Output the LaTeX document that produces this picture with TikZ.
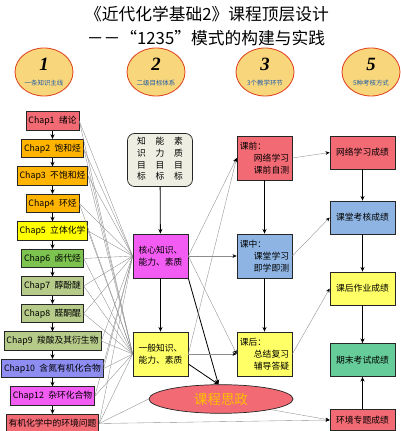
\documentclass[tikz,border=0pt]{standalone}
\usepackage{fontspec}
\setmainfont{Noto Sans CJK SC}
\newfontfamily\numfont{Liberation Serif}
\usetikzlibrary{arrows.meta,shapes.geometric}

\definecolor{ovalfill}{HTML}{F8D77C}
\definecolor{ovaldraw}{HTML}{E0401C}
\definecolor{ovaltext}{HTML}{1E5AAA}
\definecolor{boxred}{HTML}{F26A74}
\definecolor{boxorange}{HTML}{FFB400}
\definecolor{boxyellow}{HTML}{FFFF00}
\definecolor{boxgreen}{HTML}{7CC350}
\definecolor{boxolive}{HTML}{B6CB8A}
\definecolor{boxblue}{HTML}{8E8EF2}
\definecolor{boxmagenta}{HTML}{F25CF2}
\definecolor{paleyellow}{HTML}{FFFF66}
\definecolor{paleblue}{HTML}{8DB4E2}
\definecolor{palegreen}{HTML}{66CC99}
\definecolor{goalfill}{HTML}{EEEEE2}
\definecolor{sztext}{HTML}{FFC000}

\begin{document}
\begin{tikzpicture}[x=0.03cm,y=-0.03cm,
    box/.style={draw=black!85,line width=0.6pt,inner sep=2pt,font=\fontsize{7.5}{10}\selectfont},
    chapbox/.style={box,minimum height=0.55cm,inner xsep=2pt},
    midbox/.style={box,minimum width=1.65cm,minimum height=1.32cm},
    scorebox/.style={box,minimum width=1.95cm,minimum height=0.99cm},
    numoval/.style={ellipse,draw=ovaldraw,line width=0.7pt,fill=ovalfill,minimum width=1.74cm,minimum height=1.44cm,inner sep=0pt,align=center},
    thin/.style={draw=black!45,line width=0.3pt},
    thinarrow/.style={thin,-{Stealth[length=3.5pt,width=3pt,color=black]}},
    thick/.style={draw=black,line width=0.7pt,-{Stealth[length=4pt,width=3.5pt]}}]
\useasboundingbox (0,0) rectangle (400,431);

% title
\node[font=\fontsize{14.3}{16}\selectfont] (title1) at (207,14) {《近代化学基础2》课程顶层设计};
\node[font=\fontsize{14.3}{16}\selectfont] (title2) at (206,38) {－－“1235”模式的构建与实践};

% numbered ovals
\foreach \n/\x/\t in {1/44/一条知识主线,2/156/二级目标体系,3/265/3个教学环节,5/371/5种考核方式}
  \node[numoval] (n\n) at (\x,72)
    {{\numfont\bfseries\itshape\fontsize{16}{16}\selectfont \n}\\[1pt]
     {\color{ovaltext}\fontsize{5.5}{6}\selectfont \t}};

% chapters
\foreach \i/\t/\c in {1/{Chap1\enspace 绪论}/boxred,2/{Chap2\enspace 饱和烃}/boxorange,3/{Chap3\enspace 不饱和烃}/boxorange,
    4/{Chap4\enspace 环烃}/boxorange,5/{Chap5\enspace 立体化学}/boxyellow,6/{Chap6\enspace 卤代烃}/boxgreen,
    7/{Chap7\enspace 醇酚醚}/boxolive,8/{Chap8\enspace 醛酮醌}/boxolive,9/{Chap9\enspace 羧酸及其衍生物}/boxolive,
    10/{Chap10\enspace 含氮有机化合物}/boxblue,11/{Chap12\enspace 杂环化合物}/boxmagenta,12/{有机化学中的环境问题}/boxred}
  \node[chapbox,fill=\c] (c\i) at (52.5,{121+27.5*(\i-1)}) {\t};

% goals
\node[box,rounded corners=6pt,fill=goalfill,minimum width=1.95cm,minimum height=1.59cm] (goal) at (160,160)
  {\begin{tabular}{@{}c@{\hspace{1.1em}}c@{\hspace{1.1em}}c@{}}知&能&素\\识&力&质\\目&目&目\\标&标&标\end{tabular}};
\node[midbox,fill=boxmagenta,align=left] (core) at (160.5,256) {核心知识、\\能力、素质};
\node[midbox,fill=paleyellow,align=left] (general) at (160.5,354) {一般知识、\\能力、素质};
\node[ellipse,draw=black!85,line width=0.6pt,fill=boxred,minimum width=4.32cm,minimum height=0.78cm,
  text=sztext,font=\fontsize{11.5}{12}\selectfont] (szh) at (221,399) {课程思政};

% teaching stages
\node[midbox,fill=boxred,align=left] (before) at (264.5,158) {课前：\\\hspace*{1.6em}网络学习\\\hspace*{1.6em}课前自测};
\node[midbox,fill=paleblue,align=left] (during) at (264.5,256) {课中：\\\hspace*{1.6em}课堂学习\\\hspace*{1.6em}即学即测};
\node[midbox,fill=paleyellow,align=left] (after) at (264.5,354) {课后：\\\hspace*{1.6em}总结复习\\\hspace*{1.6em}辅导答疑};

% scores
\node[scorebox,fill=boxred] (web) at (362.5,152.5) {网络学习成绩};
\node[scorebox,fill=paleblue] (class) at (362.5,217.5) {课堂考核成绩};
\node[scorebox,fill=paleyellow] (homework) at (362.5,288.5) {课后作业成绩};
\node[scorebox,fill=palegreen] (final) at (362.5,360) {期末考试成绩};
\node[scorebox,fill=boxred,minimum height=0.63cm] (env) at (362.5,420) {环境专题成绩};

% connectors
\foreach \i [evaluate=\i as \j using int(\i+1)] in {1,...,11}
  \draw[thick] (c\i) -- (c\j);
\foreach \i in {1,...,12} {
  \draw[thin] (c\i.east) -- (core.west);
  \draw[thin] (c\i.east) -- (general.west);
}
\draw[thin] (c12.east) -- (szh.west);
\draw[thinarrow] (c12.east) -- (env.west);
\draw[thick] (goal) -- (core);
\draw[thick] (core) -- (general);
\draw[thick] (core.south east) -- (szh.100);
\draw[thick] (general.east) ++(0,10) -- (szh.100);
\draw[thinarrow] (core.east) -- (before.west);
\draw[thinarrow] (core.east) -- (during.west);
\draw[thinarrow] (core.east) -- (after.west);
\draw[thinarrow] (general.east) -- (before.west);
\draw[thinarrow] (general.east) -- (after.west);
\draw[thick] (before) -- (during);
\draw[thick] (during) -- (after);
\draw[thinarrow] (before.east) -- (web.west);
\draw[thinarrow] (during.east) -- (class.west);
\draw[thinarrow] (after.east) -- (homework.west);
\draw[thinarrow] (szh.-12) -- (env.west);
\draw[thick] (web) -- (class);
\draw[thick] (class) -- (homework);
\draw[thick] (homework) -- (final);
\draw[thick] (env) -- (final);
\end{tikzpicture}
\end{document}
